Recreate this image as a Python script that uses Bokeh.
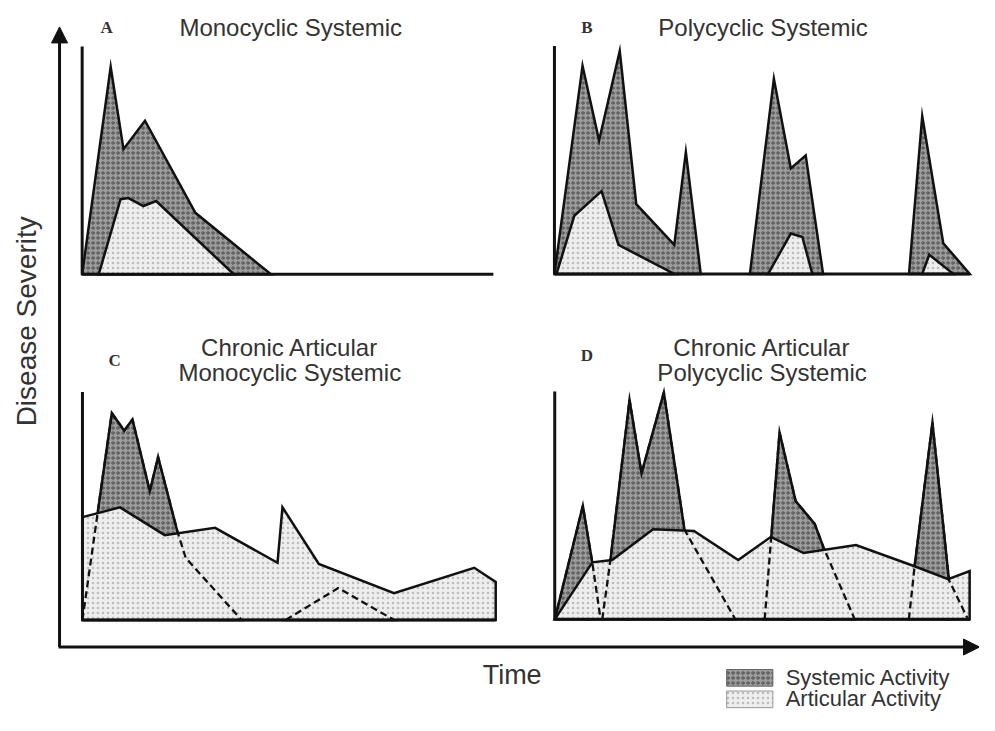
import math
from bokeh.plotting import figure
from bokeh.models import Range1d, Arrow, NormalHead
from bokeh.core.properties import value
from bokeh.embed import file_html
from bokeh.resources import INLINE

# ---------------- data (time 0-100, severity 0-100, per panel) ----------------
A_sys_t = [[0, 6.9, 10.0, 15.2, 27.4, 45.7]]
A_sys_s = [[0, 91.0, 54.9, 67.4, 27.0, 0]]
A_art_t = [[4.0, 9.3, 11.2, 14.8, 17.9, 36.7]]
A_art_s = [[0, 33.0, 33.5, 30.0, 32.2, 0]]

B_sys_t = [[0, 6.8, 10.8, 15.8, 19.8, 29.0, 31.8, 35.4],
           [47.3, 53.1, 57.2, 60.8, 65.0],
           [85.8, 89.0, 94.1, 100.5]]
B_sys_s = [[0, 91.3, 58.5, 97.8, 30.6, 12.7, 53.4, 0],
           [0, 85.6, 46.3, 52.0, 0],
           [0, 69.2, 13.4, 0]]
B_art_t = [[0.5, 4.8, 11.4, 15.5, 29.0],
           [51.7, 57.2, 60.0, 62.4],
           [89.0, 90.7, 96.5]]
B_art_s = [[0, 25.5, 36.3, 12.7, 0],
           [0, 17.7, 16.2, 0],
           [0, 8.4, 0]]

C_art_t = [[0, 0, 9.1, 19.9, 32.1, 47.2, 48.4, 57.2, 75.4, 94.8, 100, 100]]
C_art_s = [[0, 45.1, 49.4, 37.2, 40.4, 25.1, 49.4, 24.6, 11.7, 22.9, 16.7, 0]]
C_sys_t = [[0, 7.1, 10.1, 12.1, 16.3, 18.3, 23.0, 25.0, 38.5],
           [49.2, 61.9, 75.4]]
C_sys_s = [[0, 90.8, 83.0, 88.0, 56.5, 71.5, 38.6, 27.2, 0],
           [0, 14.0, 0]]

D_art_t = [[0, 9.1, 13.9, 23.8, 33.7, 44.4, 52.3, 60.2, 72.9, 86.9, 95.2, 100.4, 100.4]]
D_art_s = [[0, 25.0, 26.0, 39.5, 38.8, 26.0, 36.2, 29.1, 32.6, 23.4, 17.6, 21.2, 0]]
D_sys_t = [[0, 6.8, 9.1, 11.1],
           [11.5, 13.5, 18.1, 21.0, 26.4, 31.4, 43.7],
           [50.8, 52.4, 54.4, 58.3, 62.9, 65.1, 72.6],
           [85.7, 87.1, 91.4, 95.4, 100]]
D_sys_s = [[0, 49.8, 24.8, 0],
           [0, 26.4, 96.3, 64.1, 99.5, 39.3, 0],
           [0, 36.3, 82.0, 51.9, 41.9, 31.2, 0],
           [0, 23.6, 86.3, 17.2, 0]]

panel_letters = ["A", "B", "C", "D"]
panel_titles = [["Monocyclic Systemic"], ["Polycyclic Systemic"],
                ["Chronic Articular", "Monocyclic Systemic"],
                ["Chronic Articular", "Polycyclic Systemic"]]
x_label = "Time"
y_label = "Disease Severity"
legend_labels = ["Systemic Activity", "Articular Activity"]

# ---------------- layout (page pixel space) ----------------
SX, SY = 4.2, 2.33
panels = [
    dict(x0=83.0, y0=280.0, tmax=99.5, sys=(A_sys_t, A_sys_s), art=(A_art_t, A_art_s), dashed=False,
         letter=(108, 28), title_xy=(295, [28])),
    dict(x0=563.0, y0=279.5, tmax=100.5, sys=(B_sys_t, B_sys_s), art=(B_art_t, B_art_s), dashed=False,
         letter=(596, 28), title_xy=(775, [28])),
    dict(x0=83.3, y0=633.3, tmax=100, sys=(C_sys_t, C_sys_s), art=(C_art_t, C_art_s), dashed=True,
         letter=(116, 368), title_xy=(294, [355, 380])),
    dict(x0=563.3, y0=632.7, tmax=100.5, sys=(D_sys_t, D_sys_s), art=(D_art_t, D_art_s), dashed=True,
         letter=(596, 363), title_xy=(774, [355, 380])),
]

SYS_STYLE = dict(fill_color="#9c9c9c", hatch_pattern="ring", hatch_color="#222222",
                 hatch_scale=5, hatch_weight=1, hatch_alpha=0.6)
ART_STYLE = dict(fill_color="#eeeeee", hatch_pattern="dot", hatch_color="#9a9a9a",
                 hatch_scale=5, hatch_weight=1, hatch_alpha=0.6)
LINE = "#111111"
TXT = "#333333"

p = figure(width=979, height=715, x_range=Range1d(0, 995), y_range=Range1d(731, 0),
           output_backend="svg", toolbar_location=None, min_border=0,
           x_axis_location=None, y_axis_location=None)
p.grid.visible = False
p.outline_line_color = None


def tx(pn, ts):
    return [pn["x0"] + t * SX for t in ts]


def ty(pn, ss):
    return [pn["y0"] - s * SY for s in ss]


for i, pn in enumerate(panels):
    st, ss = pn["sys"]
    at, as_ = pn["art"]
    for t, s in zip(st, ss):
        p.patch(tx(pn, t), ty(pn, s), line_color=LINE, line_width=2.5, line_join="miter", **SYS_STYLE)
    for t, s in zip(at, as_):
        p.patch(tx(pn, t), ty(pn, s), line_color=LINE, line_width=2.5, line_join="miter", **ART_STYLE)
    if pn["dashed"]:
        for t, s in zip(st, ss):
            p.line(tx(pn, t), ty(pn, s), line_color=LINE, line_width=2.3, line_dash="7 4")
    # panel axes
    p.line(tx(pn, [0, 0]), ty(pn, [100, 0]), line_color=LINE, line_width=3)
    p.line(tx(pn, [0, pn["tmax"]]), ty(pn, [0, 0]), line_color=LINE, line_width=3)
    # letter
    p.text(x=[pn["letter"][0]], y=[pn["letter"][1]], text=[panel_letters[i]],
           text_font=value("Liberation Serif"), text_font_style="bold", text_font_size="17px",
           text_align="center", text_baseline="middle", text_color=TXT)
    cx, ys = pn["title_xy"]
    p.text(x=[cx] * len(ys), y=ys, text=panel_titles[i],
           text_font=value("Liberation Sans"), text_font_size="24px",
           text_align="center", text_baseline="middle", text_color=TXT)

# big axes with arrows
p.add_layout(Arrow(end=NormalHead(size=16, fill_color=LINE, line_color=LINE),
                   x_start=60, y_start=661, x_end=60, y_end=27, line_width=3, line_color=LINE))
p.add_layout(Arrow(end=NormalHead(size=16, fill_color=LINE, line_color=LINE),
                   x_start=59, y_start=661, x_end=995, y_end=661, line_width=3, line_color=LINE))

p.text(x=[520], y=[690], text=[x_label], text_font=value("Liberation Sans"),
       text_font_size="27px", text_align="center", text_baseline="middle", text_color=TXT)
p.text(x=[26], y=[328], text=[y_label], angle=math.pi / 2, text_font=value("Liberation Sans"),
       text_font_size="28px", text_align="center", text_baseline="middle", text_color=TXT)

# legend
p.quad(left=[738], right=[785], top=[684], bottom=[701], line_color="#666666", line_width=1, **SYS_STYLE)
p.quad(left=[738], right=[785], top=[706], bottom=[723], line_color="#999999", line_width=1, **ART_STYLE)
p.text(x=[798, 798], y=[692, 714], text=legend_labels, text_font=value("Liberation Sans"),
       text_font_size="22px", text_align="left", text_baseline="middle", text_color=TXT)

open("out.html", "w").write(file_html(p, INLINE))
